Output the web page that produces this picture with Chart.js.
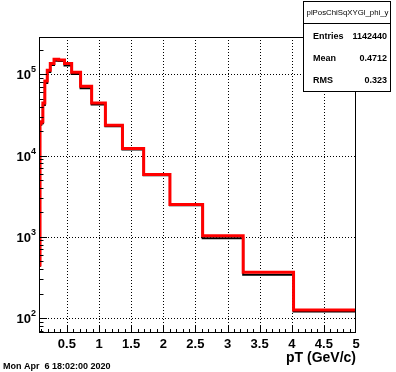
<!DOCTYPE html>
<html><head><meta charset="utf-8">
<script src="https://cdn.jsdelivr.net/npm/chart.js@4/dist/chart.umd.min.js"></script>
<style>html,body{margin:0;padding:0;background:#fff;}canvas{display:block;}</style>
</head><body>
<canvas id="c" width="396" height="372"></canvas>
<script>
// ---- data ----
const binEdges = [0.066, 0.0819, 0.1017, 0.1263, 0.1568, 0.1947, 0.2417, 0.3001, 0.3726, 0.4626, 0.5744, 0.7132, 0.8855, 1.0994, 1.365, 1.695, 2.104, 2.613, 3.244, 4.028, 5.0];
const redCounts = [450, 25000, 26000, 44400, 82800, 112000, 136000, 153000, 150000, 135500, 105800, 71100, 44400, 23600, 12200, 5850, 2500, 1030, 365, 125];
const blackCounts = [440, 24000, 25000, 42000, 78000, 107000, 130000, 147000, 146000, 128000, 101000, 67500, 42500, 23000, 11900, 5700, 2450, 960, 340, 120];
const xTickValues = [0.5, 1, 1.5, 2, 2.5, 3, 3.5, 4, 4.5, 5];
const xTickLabels = ['0.5', '1', '1.5', '2', '2.5', '3', '3.5', '4', '4.5', '5'];
const yTickValues = [100, 1000, 10000, 100000];
const yTickExponents = ['2', '3', '4', '5'];
const statsTitle = 'plPosChiSqXYGl_phi_y';
const statsNames = ['Entries', 'Mean', 'RMS'];
const statsValues = ['1142440', '0.4712', '0.323'];
const xTitle = 'pT (GeV/c)';
const dateText = 'Mon Apr  6 18:02:00 2020';

function toPoints(edges, counts) {
  const pts = [];
  for (let i = 0; i < counts.length; i++) pts.push({x: edges[i], y: counts[i]});
  pts.push({x: edges[edges.length - 1], y: counts[counts.length - 1]});
  return pts;
}

const FONT = '"Liberation Sans", Arial, Helvetica, sans-serif';

const rootPlugin = {
  id: 'rootStyle',
  beforeDatasetsDraw(chart) {
    const {ctx, chartArea: a, scales: {x, y}} = chart;
    ctx.save();
    ctx.strokeStyle = '#000';
    ctx.lineWidth = 1;
    ctx.setLineDash([1, 2]);
    xTickValues.forEach(v => {
      const px = Math.round(x.getPixelForValue(v)) + 0.5;
      if (px > a.right - 1) return;
      ctx.beginPath(); ctx.moveTo(px, a.top); ctx.lineTo(px, a.bottom); ctx.stroke();
    });
    yTickValues.forEach(v => {
      const py = Math.round(y.getPixelForValue(v)) + 0.5;
      ctx.beginPath(); ctx.moveTo(a.left, py); ctx.lineTo(a.right, py); ctx.stroke();
    });
    ctx.restore();
  },
  afterDatasetsDraw(chart) {
    const {ctx, chartArea: a, scales: {x, y}} = chart;
    ctx.save();
    ctx.setLineDash([]);
    ctx.strokeStyle = '#000';
    ctx.lineWidth = 1;
    // frame
    ctx.strokeRect(a.left + 0.5, a.top + 0.5, a.right - a.left - 1, a.bottom - a.top - 1);
    // x ticks
    ctx.beginPath();
    for (let k = 1; k < 50; k++) {
      const v = k / 10;
      if (v <= x.min) continue;
      const px = Math.round(x.getPixelForValue(v)) + 0.5;
      const len = (k % 5 === 0) ? 8 : 4;
      ctx.moveTo(px, a.bottom); ctx.lineTo(px, a.bottom - len);
    }
    // y ticks
    for (let d = 1; d <= 5; d++) {
      for (let m = 1; m <= 9; m++) {
        const v = m * Math.pow(10, d);
        if (v < y.min || v > y.max) continue;
        const py = Math.round(y.getPixelForValue(v)) + 0.5;
        const len = (m === 1) ? 8 : 4.5;
        ctx.moveTo(a.left, py); ctx.lineTo(a.left + len, py);
      }
    }
    ctx.stroke();
    // x labels
    ctx.fillStyle = '#000';
    ctx.font = 'bold 13px ' + FONT;
    ctx.textAlign = 'center';
    ctx.textBaseline = 'alphabetic';
    xTickValues.forEach((v, i) => {
      ctx.fillText(xTickLabels[i], x.getPixelForValue(v), 348);
    });
    // y labels
    yTickValues.forEach((v, i) => {
      const py = y.getPixelForValue(v);
      ctx.font = 'bold 13px ' + FONT;
      ctx.textAlign = 'right';
      ctx.fillText('10', 31, py + 5);
      ctx.font = 'bold 9px ' + FONT;
      ctx.textAlign = 'left';
      ctx.fillText(yTickExponents[i], 31, py - 2);
    });
    // x title
    ctx.font = 'bold 14px ' + FONT;
    ctx.textAlign = 'right';
    ctx.fillText(xTitle, 356, 362);
    // date
    ctx.font = 'bold 9px ' + FONT;
    ctx.textAlign = 'left';
    ctx.fillText(dateText, 3, 369);
    // stats box
    const bx = 303, by = 1, bw = 87, bh = 90;
    ctx.fillStyle = '#fff';
    ctx.fillRect(bx, by, bw, bh);
    ctx.strokeRect(bx + 0.5, by + 0.5, bw, bh);
    ctx.beginPath(); ctx.moveTo(bx, 23.5); ctx.lineTo(bx + bw, 23.5); ctx.stroke();
    ctx.fillStyle = '#000';
    ctx.font = '7.8px ' + FONT;
    ctx.textAlign = 'center';
    ctx.fillText(statsTitle, bx + bw / 2 + 1, 15);
    ctx.font = 'bold 9px ' + FONT;
    const rowsY = [38.5, 60.5, 82.5];
    statsNames.forEach((n, i) => {
      ctx.textAlign = 'left';
      ctx.fillText(n, 313, rowsY[i]);
      ctx.textAlign = 'right';
      ctx.fillText(statsValues[i], 387, rowsY[i]);
    });
    ctx.restore();
  }
};

new Chart(document.getElementById('c').getContext('2d'), {
  type: 'line',
  data: {
    datasets: [
      {data: toPoints(binEdges, redCounts), borderColor: '#ff0000', borderWidth: 3, stepped: 'before',
       pointRadius: 0, fill: false, order: 0, borderJoinStyle: 'miter', borderCapStyle: 'butt'},
      {data: toPoints(binEdges, blackCounts), borderColor: '#000000', borderWidth: 2, stepped: 'before',
       pointRadius: 0, fill: false, order: 1, borderJoinStyle: 'miter', borderCapStyle: 'butt'}
    ]
  },
  options: {
    responsive: false,
    animation: false,
    devicePixelRatio: 1,
    layout: {padding: {left: 39, top: 37, right: 40, bottom: 39}},
    plugins: {legend: {display: false}, tooltip: {enabled: false}},
    scales: {
      x: {type: 'linear', min: 0.066, max: 5, display: false},
      y: {type: 'logarithmic', min: 65.3, max: 288000, display: false}
    }
  },
  plugins: [rootPlugin]
});
</script>
</body></html>
